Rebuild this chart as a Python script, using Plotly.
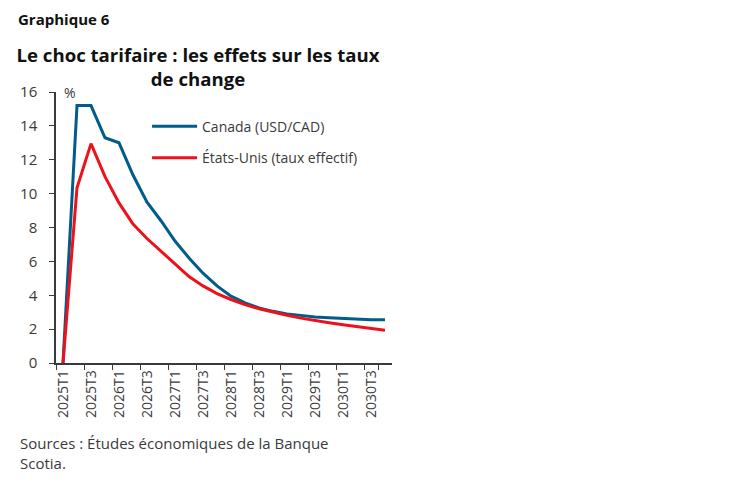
import plotly.graph_objects as go

quarters = [f"{y}T{q}" for y in range(2025, 2031) for q in range(1, 5)]

# Canada (USD/CAD), %
canada = [0.0, 15.2, 15.2, 13.3, 13.0, 11.1, 9.5, 8.4, 7.2, 6.2, 5.3, 4.55,
          3.95, 3.55, 3.25, 3.05, 2.9, 2.8, 2.72, 2.67, 2.62, 2.58, 2.56, 2.55]
# États-Unis (taux effectif), %
usa = [0.0, 10.35, 12.95, 11.0, 9.45, 8.2, 7.35, 6.6, 5.8, 5.1, 4.55, 4.1,
       3.75, 3.45, 3.2, 3.0, 2.82, 2.65, 2.5, 2.38, 2.26, 2.15, 2.04, 1.93]

font = "Open Sans"
grey = "#3a3a3a"

fig = go.Figure()
fig.add_trace(go.Scatter(x=quarters, y=canada, mode="lines", name="Canada (USD/CAD)",
                         line=dict(color="#005C8A", width=3), legend="legend"))
fig.add_trace(go.Scatter(x=quarters, y=usa, mode="lines", name="États-Unis (taux effectif)",
                         line=dict(color="#EC111A", width=3), legend="legend2"))

fig.update_layout(
    width=748, height=483,
    margin=dict(l=41, r=364, t=84, b=128),
    plot_bgcolor="white", paper_bgcolor="white",
    font=dict(family=font, size=14, color=grey),
    title=dict(text="<b>Le choc tarifaire : les effets sur les taux<br>de change</b>",
               x=0.254, xanchor="center", y=0.888, yanchor="top",
               font=dict(family=font, size=18.6, color="#111")),
    legend=dict(x=0.271, y=0.872, xanchor="left", yanchor="middle", itemwidth=45,
                bgcolor="rgba(0,0,0,0)", font=dict(size=14, color=grey)),
    legend2=dict(x=0.271, y=0.7555, xanchor="left", yanchor="middle", itemwidth=45,
                 bgcolor="rgba(0,0,0,0)", font=dict(size=14, color=grey)),
    showlegend=True,
)

fig.update_xaxes(type="category", tickmode="array",
                 tickvals=quarters[::2], ticktext=quarters[::2],
                 tickson="boundaries", tickangle=-90,
                 ticks="outside", ticklen=5, tickcolor=grey,
                 showline=True, linecolor=grey, linewidth=1.5,
                 showgrid=False, range=[-0.5, len(quarters) - 0.5],
                 tickfont=dict(size=14, color=grey))
fig.update_yaxes(range=[0, 16], dtick=2, ticks="outside", ticklen=5, tickcolor=grey,
                 showline=True, linecolor=grey, linewidth=1.5, showgrid=False,
                 zeroline=False, ticklabelstandoff=9, tickfont=dict(size=15, color=grey))

fig.add_annotation(text="<b>Graphique 6</b>", xref="paper", yref="paper",
                   x=-0.12, y=1.268, xanchor="left", yanchor="middle", showarrow=False,
                   font=dict(family=font, size=15, color="#111"))
fig.add_annotation(text="%", xref="paper", yref="paper", x=0.042, y=1.0,
                   xanchor="center", yanchor="middle", showarrow=False,
                   font=dict(size=14, color=grey))
fig.add_annotation(text="Sources : Études économiques de la Banque<br>Scotia.",
                   xref="paper", yref="paper", x=-0.112, y=-0.251, xanchor="left",
                   yanchor="top", align="left", showarrow=False,
                   font=dict(size=15, color=grey))

fig.write_html("out.html")
